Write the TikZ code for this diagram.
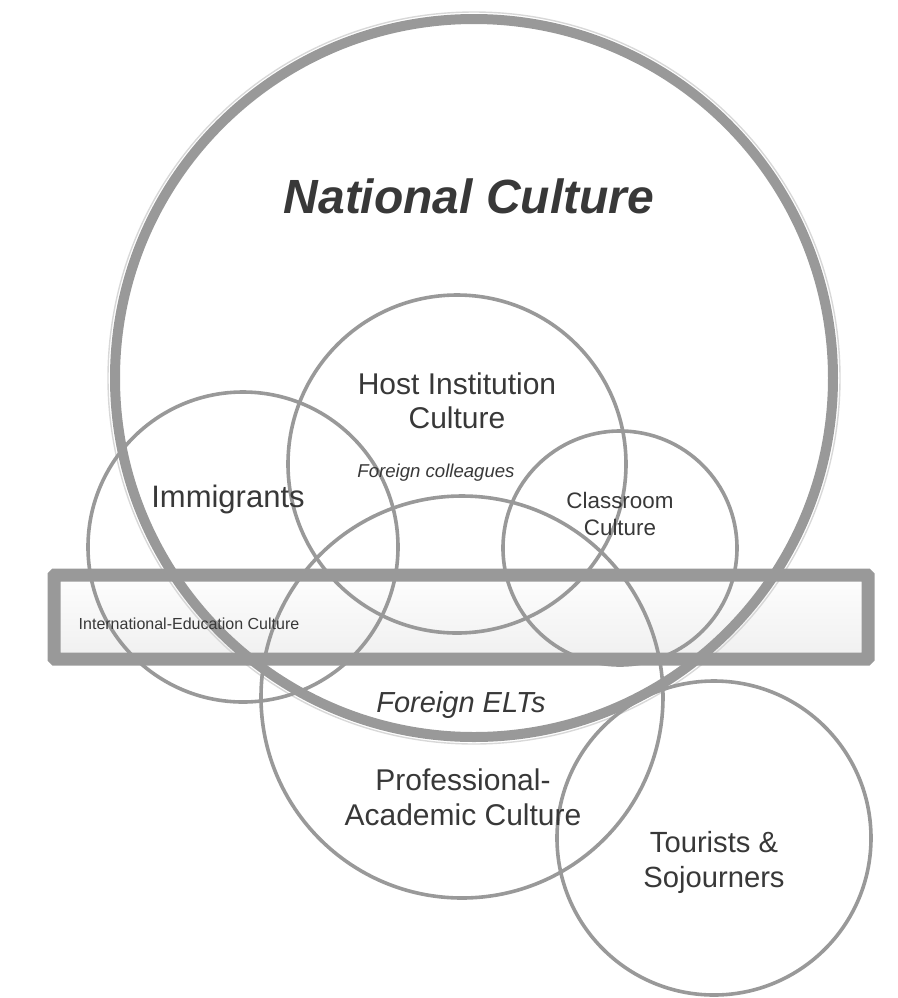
\documentclass[tikz,border=0pt]{standalone}
\usepackage{fontspec}
\setmainfont{Liberation Sans}
\definecolor{linegray}{HTML}{999999}
\definecolor{halo}{HTML}{D8D8D8}
\definecolor{textgray}{HTML}{383838}
\begin{document}
\begin{tikzpicture}[x=0.5pt,y=-0.5pt,
  ring/.style={draw=linegray, line width=1.8pt},
  bigring/.style={draw=linegray, line width=5pt},
  lbl/.style={text=textgray, inner sep=0pt, align=center},
  big/.style={font=\fontsize{15}{17.25}\selectfont},
]
\useasboundingbox (0,0) rectangle (898,998);
% named centres
\coordinate (natc) at (474,378);
\coordinate (hostc) at (457,464);
\coordinate (immc) at (243,547);
\coordinate (classc) at (620,548);
\coordinate (profc) at (462,697);
\coordinate (tourc) at (714,838);
\coordinate (boxnw) at (54,575);
\coordinate (boxse) at (868,659);
% band fill
\shade[top color=gray!1, bottom color=gray!12] (boxnw) rectangle (boxse);
% national culture circle with faint halo
\draw[draw=halo, line width=0.7pt] (natc) circle (366);
\draw[bigring] (natc) circle (359);
% thinner circles
\draw[ring] (hostc) circle (169);
\draw[ring] (immc) circle (155);
\draw[ring] (classc) circle (117);
\draw[ring] (profc) circle (201);
\draw[ring] (tourc) circle (157);
% band border
\draw[draw=linegray, line width=6.5pt, rounded corners=0.5pt] (boxnw) rectangle (boxse);
% labels
\node[lbl, anchor=base, font=\bfseries\itshape\fontsize{24}{28}\selectfont] (nat) at (469,213) {National Culture};
\node[lbl, font=\fontsize{15}{17}\selectfont] (host) at (457,401) {Host Institution\\Culture};
\node[lbl, anchor=base, font=\itshape\fontsize{9.3}{11}\selectfont] (coll) at (436,477) {Foreign colleagues};
\node[lbl, anchor=base, font=\fontsize{15.5}{18}\selectfont] (imm) at (228,507) {Immigrants};
\node[lbl, font=\fontsize{11.2}{13.5}\selectfont] (class) at (620,513.5) {Classroom\\Culture};
\node[lbl, anchor=base, font=\fontsize{8}{10}\selectfont] (intl) at (189,629) {International-Education Culture};
\node[lbl, anchor=base, font=\itshape\fontsize{14.5}{17}\selectfont] (elt) at (461,712) {Foreign ELTs};
\node[lbl, font=\fontsize{15}{17.5}\selectfont] (prof) at (463,797) {Professional-\\Academic Culture};
\node[lbl, font=\fontsize{14.6}{17.5}\selectfont] (tour) at (714,862) {Tourists \&\\Sojourners};
\end{tikzpicture}
\end{document}
